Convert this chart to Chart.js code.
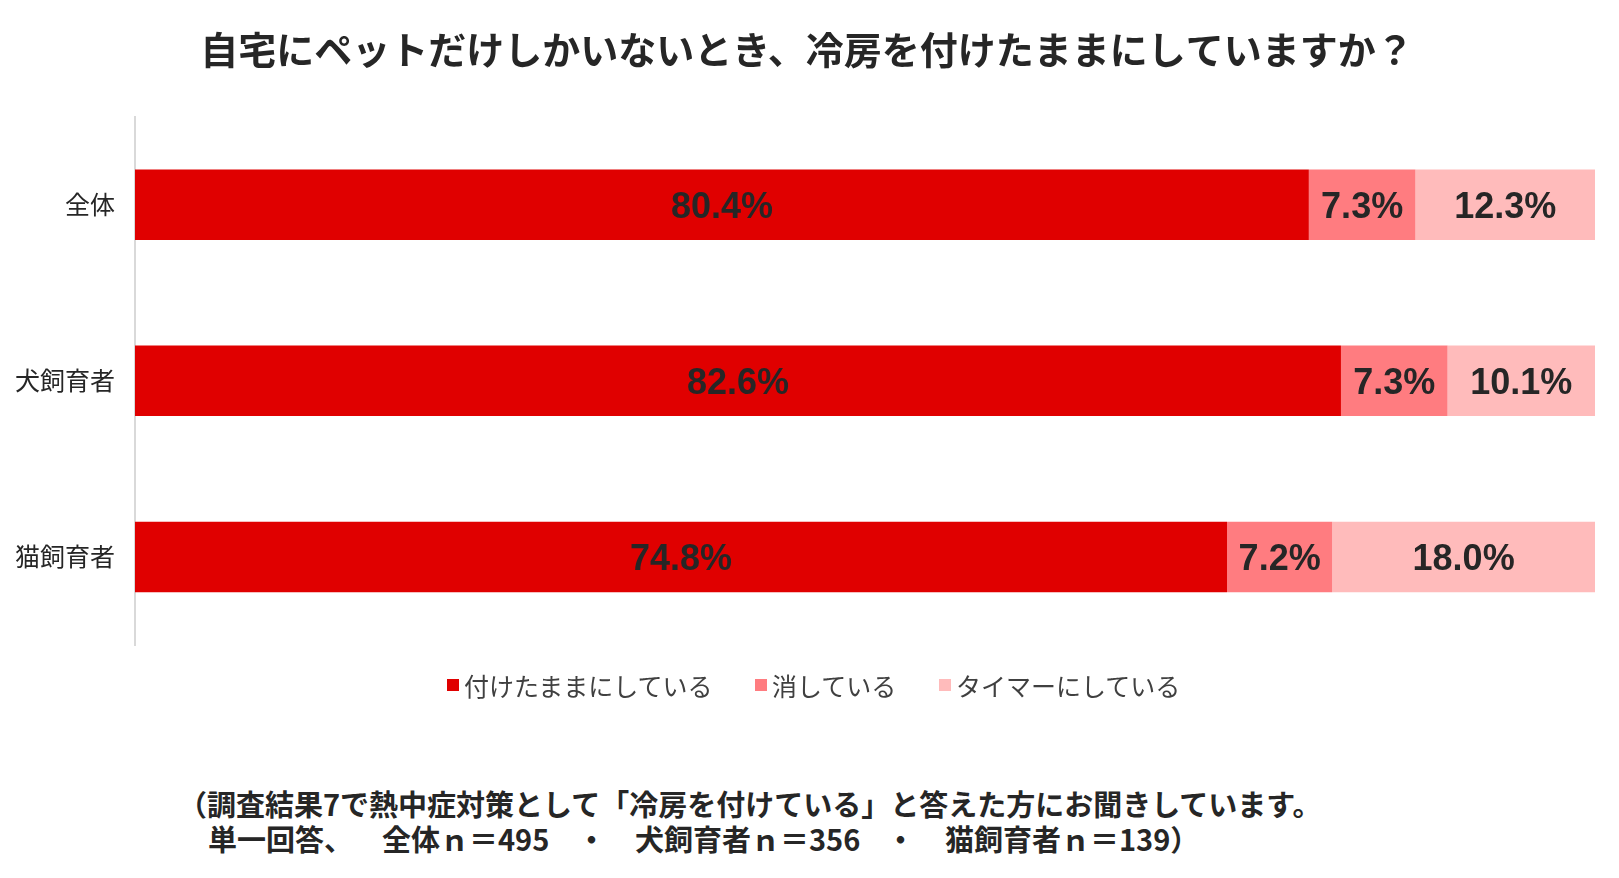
<!DOCTYPE html>
<html lang="ja">
<head>
<meta charset="utf-8">
<script src="https://cdn.jsdelivr.net/npm/chart.js@4"></script>
<style>
    body { margin: 0; background: #fff; font-family: "Noto Sans CJK JP", sans-serif; }
    #wrap { position: relative; width: 1619px; height: 878px; }
    #chart-box { position: absolute; left: 0; top: 0; width: 1619px; height: 672px; }
    #legend { position: absolute; left: 0; top: 667px; width: 1619px; height: 36px; }
    .lg-item { position: absolute; top: 0; height: 36px; display: flex; align-items: center; font-size: 25px; color: #404040; white-space: nowrap; }
    .lg-box { width: 12px; height: 12px; margin-right: 5px; }
    .note { position: absolute; font-size: 29px; font-weight: bold; color: #262626; white-space: nowrap; line-height: 34px; }
</style>
</head>
<body>
<div id="wrap">
    <div id="chart-box"><canvas id="pet-chart"></canvas></div>
    <div id="legend"></div>
    <div class="note" style="left:178px; top:786px;">（調査結果7で熱中症対策として「冷房を付けている」と答えた方にお聞きしています。</div>
    <div class="note" style="left:208px; top:821px;">単一回答、</div>
    <div class="note" style="left:382px; top:821px;">全体ｎ＝495</div>
    <div class="note" style="left:577px; top:821px;">・</div>
    <div class="note" style="left:635px; top:821px;">犬飼育者ｎ＝356</div>
    <div class="note" style="left:886px; top:821px;">・</div>
    <div class="note" style="left:945px; top:821px;">猫飼育者ｎ＝139）</div>
</div>
<script>
const titleText = '自宅にペットだけしかいないとき、冷房を付けたままにしていますか？';
const categories = ['全体', '犬飼育者', '猫飼育者'];
const seriesNames = ['付けたままにしている', '消している', 'タイマーにしている'];
const keepOn = [80.4, 82.6, 74.8];
const turnOff = [7.3, 7.3, 7.2];
const timer = [12.3, 10.1, 18.0];
const colors = ['#E00000', '#FF7C80', '#FFBBBB'];

// labels in the middle of each segment
const segmentLabels = {
    id: 'segmentLabels',
    afterDatasetsDraw(chart) {
        const ctx = chart.ctx;
        ctx.save();
        ctx.font = 'bold 36px "Liberation Sans", Arial, sans-serif';
        ctx.fillStyle = '#262626';
        ctx.textAlign = 'center';
        ctx.textBaseline = 'middle';
        chart.data.datasets.forEach((ds, i) => {
            const meta = chart.getDatasetMeta(i);
            meta.data.forEach((bar, j) => {
                const cx = (bar.x + bar.base) / 2;
                ctx.fillText(ds.data[j].toFixed(1) + '%', cx, bar.y + 3);
            });
        });
        ctx.restore();
    }
};

const chart = new Chart(document.getElementById('pet-chart'), {
    type: 'bar',
    data: {
        labels: categories,
        datasets: [
            { label: seriesNames[0], data: keepOn, backgroundColor: colors[0] },
            { label: seriesNames[1], data: turnOff, backgroundColor: colors[1] },
            { label: seriesNames[2], data: timer, backgroundColor: colors[2] }
        ]
    },
    options: {
        indexAxis: 'y',
        responsive: true,
        maintainAspectRatio: false,
        animation: false,
        barPercentage: 0.4,
        categoryPercentage: 1,
        layout: { padding: { left: 0, right: 24, top: 0, bottom: 0 } },
        plugins: {
            legend: { display: false },
            tooltip: { enabled: false },
            title: {
                display: true,
                text: '\u2002' + titleText,
                color: '#262626',
                font: { family: '"Noto Sans CJK JP", sans-serif', size: 38, weight: 'bold', lineHeight: 1.2 },
                padding: { top: 27, bottom: 44 }
            }
        },
        scales: {
            x: { stacked: true, min: 0, max: 100, display: false },
            y: {
                stacked: true,
                grid: { display: false },
                border: { display: true, color: '#d9d9d9', width: 2 },
                ticks: {
                    color: '#262626',
                    padding: 12,
                    font: { family: '"Noto Sans CJK JP", sans-serif', size: 25 }
                },
                afterFit(scale) { scale.width = 135; }
            }
        }
    },
    plugins: [segmentLabels]
});

// html legend from the chart's own legend items
const legendEl = document.getElementById('legend');
const legendX = [447, 755, 939];
chart.options.plugins.legend.labels.generateLabels(chart).forEach((item, i) => {
    const el = document.createElement('div');
    el.className = 'lg-item';
    el.style.left = legendX[i] + 'px';
    el.innerHTML = `<span class="lg-box" style="background:${item.fillStyle}"></span><span>${item.text}</span>`;
    legendEl.appendChild(el);
});
</script>
</body>
</html>
